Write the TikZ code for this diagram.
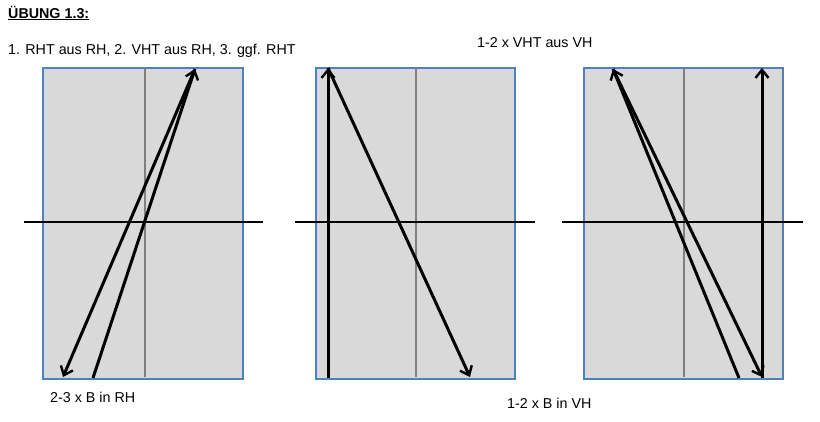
\documentclass[tikz,border=0pt]{standalone}
\usepackage{fontspec}
\setmainfont{Liberation Sans}
\usepackage{xcolor}
\usepackage{tikz}
\usetikzlibrary{arrows.meta, positioning}
\definecolor{boxBlue}{HTML}{4F81BD}
\definecolor{boxFill}{HTML}{D9D9D9}
\definecolor{midGray}{HTML}{808080}
\tikzset{
  panel/.style={draw=boxBlue, line width=1.8pt, fill=boxFill},
  midline/.style={draw=midGray, line width=2pt},
  axis/.style={draw=black, line width=1.6pt},
  vec/.style={draw=black, line width=3pt,
    -{Straight Barb[length=8pt,width=13pt,line width=2.4pt]}},
  lbl/.style={anchor=base west, inner sep=0pt, font=\fontsize{14.3}{16}\selectfont}
}

\begin{document}
\begin{tikzpicture}[x=1pt, y=-1pt]
  \useasboundingbox (0,0) rectangle (820,421);
  % panels with centre lines and axes
  \foreach \name/\xl/\xm/\xr/\al/\ar in {p1/42/145/242/24/263, p2/315/416/514/295/535, p3/583/684/782/562/803} {
    \node[panel, minimum width=\xr-\xl, minimum height=311, inner sep=0pt, anchor=north west]
      (\name) at (\xl,67) {};
    \draw[midline] (\xm,68) -- (\xm,377);
    \draw[axis] (\al,222) -- (\ar,222);
  }
  % end points of the vectors
  \coordinate (a1top) at (195,69);
  \coordinate (a1bl)  at (63,377);
  \coordinate (a1br)  at (93,378);
  \coordinate (a2top) at (328,68);
  \coordinate (a2bl)  at (328,378);
  \coordinate (a2br)  at (470,377);
  \coordinate (a3top) at (613,69);
  \coordinate (a3bl)  at (739,378);
  \coordinate (a3rt)  at (762,68);
  \coordinate (a3rb)  at (762,378);
  \coordinate (a3br)  at (762,377);
  % vectors
  \draw[vec] (a1br) -- (a1top);
  \draw[vec] (a1top) -- (a1bl);
  \draw[vec] (a2bl) -- (a2top);
  \draw[vec] (a2top) -- (a2br);
  \draw[vec] (a3bl) -- (a3top);
  \draw[vec] (a3top) -- (a3br);
  \draw[vec] (a3rb) -- (a3rt);
  % texts
  \node[lbl] (title) at (8,18) {\underline{\textbf{ÜBUNG 1.3:}}};
  \node[lbl] (steps) at (8,54) {1. RHT aus RH, 2. VHT aus RH, 3. ggf. RHT};
  \node[lbl] (vhtop) at (477,47) {1-2 x VHT aus VH};
  \node[lbl] (rhbot) at (50,402) {2-3 x B in RH};
  \node[lbl] (vhbot) at (507,408) {1-2 x B in VH};
\end{tikzpicture}
\end{document}
